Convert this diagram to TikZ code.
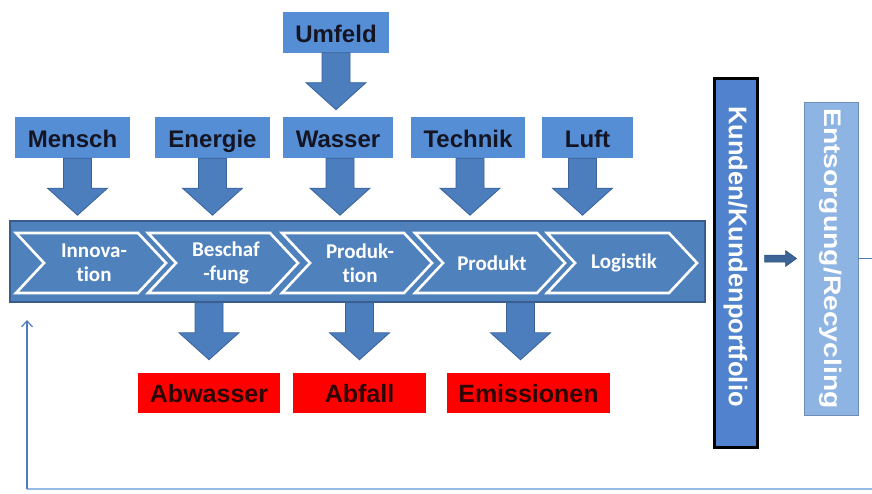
\documentclass[tikz,border=0pt]{standalone}
\usepackage{fontspec}
\setmainfont{Liberation Sans}
\newfontfamily\calib[Ligatures=NoCommon]{Carlito}
\usetikzlibrary{calc,arrows.meta}
\definecolor{boxblue}{RGB}{85,142,213}
\definecolor{bandblue}{RGB}{79,129,189}
\definecolor{banddark}{RGB}{56,93,138}
\definecolor{arrowblue}{RGB}{76,126,190}
\definecolor{arrowedge}{RGB}{58,98,155}
\definecolor{kundblue}{RGB}{80,130,205}
\definecolor{lightbox}{RGB}{142,180,227}
\definecolor{lightedge}{RGB}{110,140,180}
\definecolor{loopblue}{RGB}{150,188,230}
\definecolor{loopdark}{RGB}{80,125,185}
\definecolor{smallarrow}{RGB}{60,100,150}
\definecolor{txtdark}{RGB}{20,20,35}
\definecolor{txtred}{RGB}{45,5,5}
\begin{document}
\begin{tikzpicture}[x=1pt,y=-1pt,
  inbox/.style={fill=boxblue, font=\bfseries\fontsize{24}{28}\selectfont, text=txtdark,
    minimum height=41pt, inner sep=0pt, text height=20pt, text depth=0pt},
  outbox/.style={fill=red, font=\bfseries\fontsize{25}{28}\selectfont, text=txtred,
    minimum height=40pt, inner sep=0pt, text height=18pt, text depth=0pt},
  chevbox/.style={fill=bandblue, draw=white, line width=2.6pt, line join=miter},
  chevtext/.style={font=\calib\bfseries\fontsize{21}{24}\selectfont, text=white, align=center, inner sep=0pt},
  darr/.pic={\filldraw[fill=arrowblue, draw=arrowedge, line width=0.8pt]
     (-14,0) -- (14,0) -- (14,30) -- (30,30) -- (0,57) -- (-30,30) -- (-14,30) -- cycle;},
  loopline/.style={line width=1.6pt, draw=loopblue},
]
\useasboundingbox (0,0) rectangle (872,493);
\fill[white] (0,0) rectangle (872,493);

% input boxes
\node[inbox, minimum width=106pt] (umfeld) at (336,32) {Umfeld};
\node[inbox, minimum width=115pt] (mensch) at (72.5,137.5) {Mensch};
\node[inbox, minimum width=115pt] (energie) at (212.5,137.5) {Energie};
\node[inbox, minimum width=110pt] (wasser) at (338,137.5) {Wasser};
\node[inbox, minimum width=114pt] (technik) at (468,137.5) {Technik};
\node[inbox, minimum width=91pt] (luft) at (587.5,137.5) {Luft};

% main band
\node[draw=banddark, fill=bandblue, line width=1.5pt, minimum width=695pt, minimum height=81pt, inner sep=0pt] (band) at (357.5,261.5) {};

% chevrons
\foreach \xo in {16,148,282,415,547}{
  \filldraw[chevbox] (\xo,233) -- (\xo+122,233) -- (\xo+150,263) -- (\xo+122,293) -- (\xo,293) -- (\xo+28,263) -- cycle;
}
\node[chevtext] (c1) at (94,263) {Innova-\\tion};
\node[chevtext] (c2) at (226,263) {Beschaf\\-fung};
\node[chevtext] (c3) at (360,263) {Produk-\\tion};
\node[chevtext] (c4) at (492,263) {Produkt};
\node[chevtext] (c5) at (624,263) {Logistik};

% output boxes
\node[outbox, minimum width=142pt] (abw) at (209,393) {Abwasser};
\node[outbox, minimum width=133pt] (abf) at (359.5,393) {Abfall};
\node[outbox, minimum width=163pt] (emi) at (528.5,393) {Emissionen};

% block arrows
\pic at (umfeld.south) {darr};
\pic at ($(mensch.south)+(5,0)$) {darr};
\pic at (energie.south) {darr};
\pic at ($(wasser.south)+(2,0)$) {darr};
\pic at ($(technik.south)+(2,0)$) {darr};
\pic at ($(luft.south)+(-5,0)$) {darr};
\pic at (abw.north |- band.south) {darr};
\pic at (abf.north |- band.south) {darr};
\pic at ($(emi.north |- band.south)+(-8,0)$) {darr};

% customer and disposal boxes
\node[draw=black, line width=3pt, fill=kundblue, minimum width=43pt, minimum height=369pt, inner sep=0pt] (kund) at (735.5,262.5) {};
\node[rotate=-90, text=white, font=\bfseries\fontsize{25.5}{28}\selectfont] at ($(kund.center)+(0,-6)$) {Kunden/Kundenportfolio};
\node[draw=lightedge, line width=0.8pt, fill=lightbox, minimum width=54pt, minimum height=313pt, inner sep=0pt] (ents) at (831,258.5) {};
\node[rotate=-90, text=white, font=\bfseries\fontsize{24}{28}\selectfont] at (ents.center) {\scalebox{1.18}[1]{Entsorgung/Recycling}};

% small arrow
\coordinate (sa) at ($(kund.east |- ents.west)+(6,0)$);
\coordinate (sb) at ($(ents.west)+(-7,0)$);
\filldraw[fill=smallarrow, draw=smallarrow!80!black, line width=0.5pt]
  ($(sa)+(0,-3.5)$) -- ($(sb)+(-11,-3.5)$) -- ($(sb)+(-11,-8)$) -- (sb) -- ($(sb)+(-11,8)$) -- ($(sb)+(-11,3.5)$) -- ($(sa)+(0,3.5)$) -- cycle;

% feedback loop
\coordinate (lr) at (872,258.5);
\coordinate (br) at (872,489);
\coordinate (bl) at (27,489);
\coordinate (tl) at (27,320);
\draw[line width=1pt, draw=loopdark] (ents.east) -- (lr);
\draw[loopline] (br) -- (bl);
\draw[line width=1.2pt, draw=loopdark, -{Straight Barb[length=6pt,width=11pt]}] (bl) -- (tl);
\end{tikzpicture}
\end{document}
